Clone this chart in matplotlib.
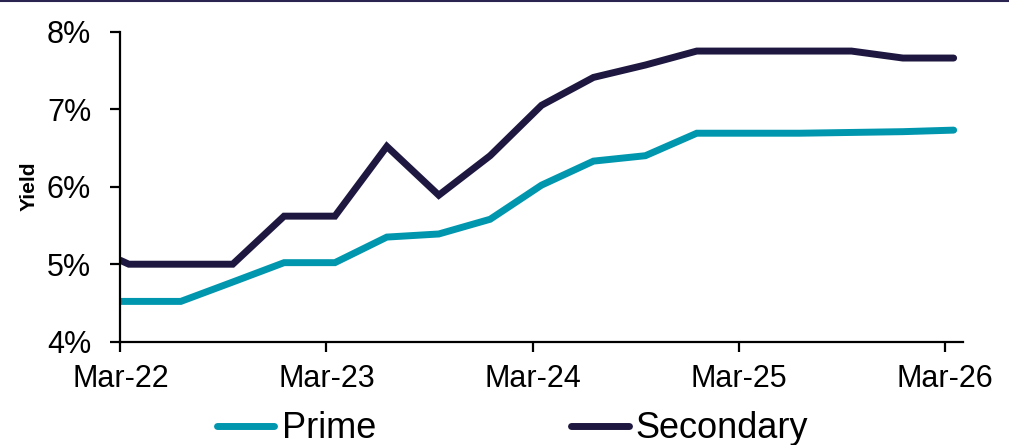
import matplotlib
matplotlib.use("Agg")
import matplotlib.pyplot as plt
from matplotlib.lines import Line2D
from matplotlib.ticker import FuncFormatter
import pandas as pd

# ---- data ----
dates = ["2022-03-01", "2022-03-16", "2022-06-16", "2022-09-16", "2022-12-16",
         "2023-03-16", "2023-06-16", "2023-09-16", "2023-12-16", "2024-03-16",
         "2024-06-16", "2024-09-16", "2024-12-16", "2025-03-16", "2025-06-16",
         "2025-09-16", "2025-12-16", "2026-03-16"]
prime = [4.52, 4.52, 4.52, 4.77, 5.02, 5.02, 5.35, 5.39, 5.58, 6.02, 6.33, 6.40,
         6.69, 6.69, 6.69, 6.70, 6.71, 6.73]
secondary = [5.05, 5.00, 5.00, 5.00, 5.62, 5.62, 6.52, 5.89, 6.40, 7.05, 7.41, 7.57,
             7.75, 7.75, 7.75, 7.75, 7.66, 7.66]
tick_dates = ["2022-03-01", "2023-03-01", "2024-03-01", "2025-03-01", "2026-03-01"]
tick_labels = ["Mar-22", "Mar-23", "Mar-24", "Mar-25", "Mar-26"]
y_ticks = [4, 5, 6, 7, 8]
series_names = ["Prime", "Secondary"]
colors = ["#0097AE", "#1E1840"]

plt.rcParams['font.family'] = ['Liberation Sans', 'DejaVu Sans']

x = pd.to_datetime(dates)
fig = plt.figure(figsize=(10.09, 4.45), dpi=100)
ax = fig.add_axes([0.1193, 0.2321, 0.9541 - 0.1193, 0.9288 - 0.2321])

for vals, name, c in zip([prime, secondary], series_names, colors):
    ax.plot(x, vals, color=c, lw=5.0, solid_capstyle='round',
            solid_joinstyle='miter', label=name)

ax.set_xlim(pd.Timestamp("2022-03-01"), pd.Timestamp("2026-04-01"))
ax.set_ylim(4, 8)
ax.set_xticks(pd.to_datetime(tick_dates))
ax.set_xticklabels(tick_labels)
ax.set_yticks(y_ticks)
ax.yaxis.set_major_formatter(FuncFormatter(lambda v, p: f"{v:.0f}%"))

for s in ["top", "right"]:
    ax.spines[s].set_visible(False)
for s in ["left", "bottom"]:
    ax.spines[s].set_linewidth(1.6)
    ax.spines[s].set_color("black")
ax.tick_params(axis='both', direction='out', length=7, width=1.6, labelsize=22,
               colors='black')
ax.tick_params(axis='x', pad=9)
ax.tick_params(axis='y', pad=14)

ax.set_ylabel("Yield", fontsize=15, fontweight='bold', labelpad=6)

handles = [Line2D([0], [0], color=c, lw=5.0, solid_capstyle='round') for c in colors]
fig.legend(handles, series_names, loc='center', bbox_to_anchor=(0.508, 0.036),
           ncol=2, frameon=False, fontsize=26, handlelength=1.6,
           handletextpad=0.2, columnspacing=5.4, borderaxespad=0, borderpad=0)

fig.add_artist(Line2D([0, 1], [0.997, 0.997], transform=fig.transFigure,
                      color="#2A2550", lw=1.5))

fig.savefig("out.png", dpi=100)
